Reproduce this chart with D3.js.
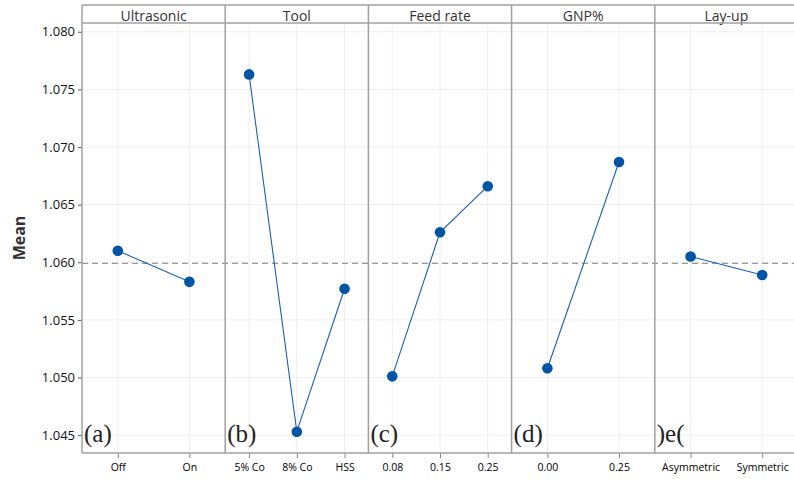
<html>
<head>
<script src="https://d3js.org/d3.v7.min.js"></script>
<style>
  body { margin: 0; background: white; }
  svg { font-family: "Open Sans", "Noto Sans", sans-serif; }
</style>
</head>
<body>
<svg id="chart" width="794" height="479"></svg>
<script>
// main effects for means
const factors = ["Ultrasonic", "Tool", "Feed rate", "GNP%", "Lay-up"];
const panelTags = ["(a)", "(b)", "(c)", "(d)", ")e("];
const levels = [
    ["Off", "On"],
    ["5% Co", "8% Co", "HSS"],
    ["0.08", "0.15", "0.25"],
    ["0.00", "0.25"],
    ["Asymmetric", "Symmetric"]
];
const means = [
    [1.0610, 1.0583],
    [1.0763, 1.0453, 1.0577],
    [1.0501, 1.0626, 1.0666],
    [1.0508, 1.0687],
    [1.0605, 1.0589]
];
const grandMean = 1.0599;
const yTicks = [1.045, 1.050, 1.055, 1.060, 1.065, 1.070, 1.075, 1.080];

const svg = d3.select("#chart");
const margin = { top: 23, left: 82, bottom: 453, right: 798 };
const stripTop = 5;

const x = d3.scaleBand().domain(factors).range([margin.left, margin.right]);
const y = d3.scaleLinear().domain([1.04345, 1.08076]).range([margin.bottom, margin.top]);

const gray = "#a0a0a0";

// horizontal gridlines
svg.append("g").selectAll("line").data(yTicks).join("line")
    .attr("x1", margin.left).attr("x2", margin.right)
    .attr("y1", d => y(d)).attr("y2", d => y(d))
    .attr("stroke", "#eeeeee").attr("stroke-width", 1);

// y axis
const yAxis = svg.append("g")
    .attr("transform", `translate(${margin.left},0)`)
    .call(d3.axisLeft(y).tickValues(yTicks).tickFormat(d3.format(".3f")).tickSize(4).tickPadding(3));
yAxis.select(".domain").remove();
yAxis.selectAll(".tick line").attr("stroke", "#555");
yAxis.selectAll("text").attr("font-size", 13).attr("fill", "#111").attr("font-family", "Open Sans");

svg.append("text")
    .attr("transform", `translate(25,${(margin.top + margin.bottom) / 2}) rotate(-90)`)
    .attr("text-anchor", "middle")
    .attr("font-size", 16).attr("font-weight", "bold").attr("fill", "#333")
    .text("Mean");

// panels
factors.forEach((f, i) => {
    const x0 = x(f);
    const px = d3.scalePoint().domain(levels[i]).range([x0, x0 + x.bandwidth()]).padding(0.5);
    const g = svg.append("g");

    // vertical gridlines
    g.selectAll("line.vg").data(levels[i]).join("line").attr("class", "vg")
        .attr("x1", d => px(d)).attr("x2", d => px(d))
        .attr("y1", margin.top).attr("y2", margin.bottom)
        .attr("stroke", "#eeeeee");

    // x axis ticks
    const xAxis = g.append("g")
        .attr("transform", `translate(0,${margin.bottom})`)
        .call(d3.axisBottom(px).tickSize(5).tickPadding(6));
    xAxis.select(".domain").remove();
    xAxis.selectAll(".tick line").attr("stroke", "#888");
    xAxis.selectAll("text").attr("font-size", 10.5).attr("fill", "#000").attr("font-family", "Open Sans");

    // header text
    g.append("text")
        .attr("x", x0 + x.bandwidth() / 2).attr("y", 21)
        .attr("text-anchor", "middle")
        .attr("font-size", 14).attr("fill", "#333")
        .text(f);

    // panel left border
    g.append("line")
        .attr("x1", x0).attr("x2", x0)
        .attr("y1", stripTop).attr("y2", margin.bottom)
        .attr("stroke", gray).attr("stroke-width", 1.5);

    // panel tag
    g.append("text")
        .attr("x", x0 + 2).attr("y", 442)
        .attr("font-family", "Liberation Serif, serif")
        .attr("font-size", 25).attr("fill", "#222")
        .text(panelTags[i]);
});

// grand mean reference
svg.append("line")
    .attr("x1", margin.left).attr("x2", margin.right)
    .attr("y1", y(grandMean)).attr("y2", y(grandMean))
    .attr("stroke", "#999").attr("stroke-width", 1.2)
    .attr("stroke-dasharray", "6,4");

// lines and points
factors.forEach((f, i) => {
    const x0 = x(f);
    const px = d3.scalePoint().domain(levels[i]).range([x0, x0 + x.bandwidth()]).padding(0.5);
    const pts = levels[i].map((l, j) => [px(l), y(means[i][j])]);
    svg.append("path")
        .attr("d", d3.line()(pts))
        .attr("fill", "none").attr("stroke", "#1a5fb4").attr("stroke-width", 1.1);
    svg.append("g").selectAll("circle").data(pts).join("circle")
        .attr("cx", d => d[0]).attr("cy", d => d[1]).attr("r", 5.3)
        .attr("fill", "#0054a6");
});

// strip borders and bottom axis line
svg.append("line").attr("x1", margin.left).attr("x2", margin.right)
    .attr("y1", stripTop).attr("y2", stripTop).attr("stroke", gray).attr("stroke-width", 1.5);
svg.append("line").attr("x1", margin.left).attr("x2", margin.right)
    .attr("y1", margin.top).attr("y2", margin.top).attr("stroke", gray).attr("stroke-width", 1.5);
svg.append("line").attr("x1", margin.left).attr("x2", margin.right)
    .attr("y1", margin.bottom).attr("y2", margin.bottom).attr("stroke", gray).attr("stroke-width", 1.5);
</script>
</body>
</html>
